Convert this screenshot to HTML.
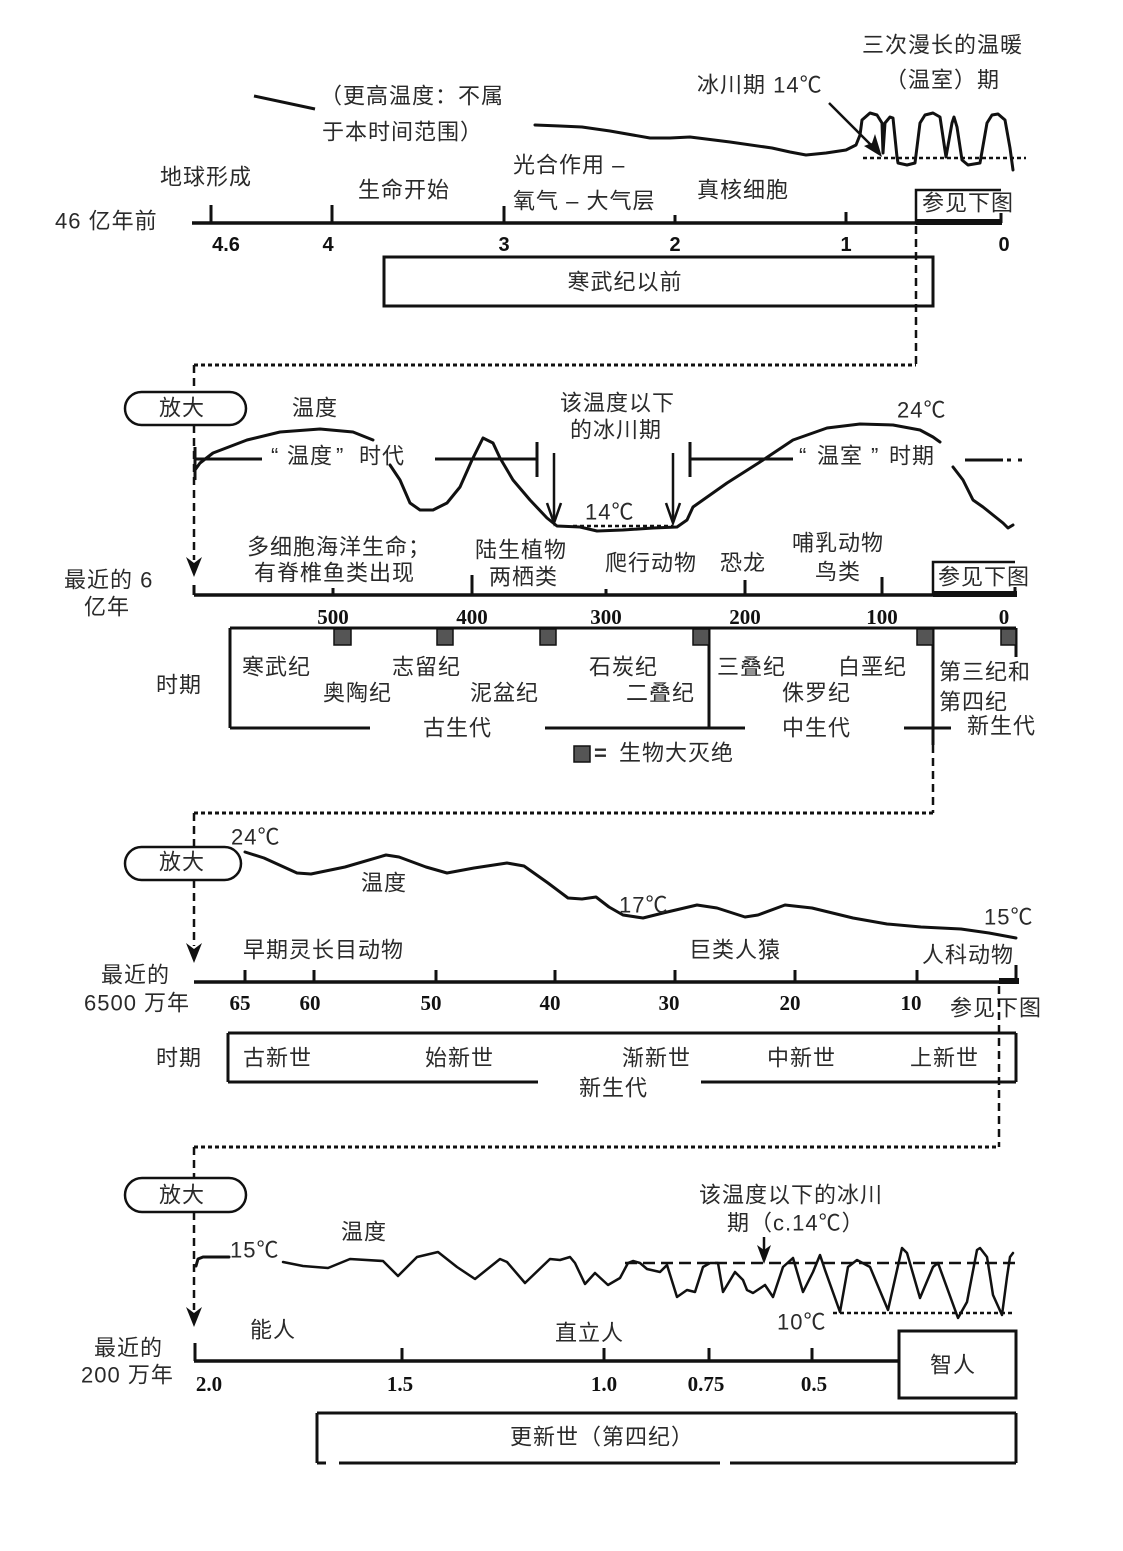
<!DOCTYPE html>
<html>
<head>
<meta charset="utf-8">
<style>
  html,body{margin:0;padding:0;background:#fff;}
  svg{display:block;}
  .t{font-family:"Liberation Sans","Noto Sans CJK SC",sans-serif;font-size:22px;fill:#2a2a2a;dominant-baseline:central;letter-spacing:1px;}
  .n1{font-family:"Liberation Sans",sans-serif;font-size:20px;font-weight:bold;fill:#111;dominant-baseline:central;text-anchor:middle;}
  .n2{font-family:"Liberation Serif",serif;font-size:21px;font-weight:bold;fill:#111;dominant-baseline:central;text-anchor:middle;}
  .ln{stroke:#111;stroke-width:3;fill:none;stroke-linecap:butt;}
  .cv{stroke:#111;stroke-width:3;fill:none;stroke-linejoin:round;stroke-linecap:round;}
  .dash{stroke:#111;stroke-width:2.5;fill:none;stroke-dasharray:8 5;}
  .dot{stroke:#111;stroke-width:3;fill:none;stroke-dasharray:4 3;}
  .ax{stroke:#111;stroke-width:3.5;fill:none;}
  .sq{fill:#555;stroke:#111;stroke-width:1.5;}
</style>
</head>
<body>
<svg width="1123" height="1551" viewBox="0 0 1123 1551" xmlns="http://www.w3.org/2000/svg">
<rect width="1123" height="1551" fill="#fff"/>

<!-- ================= SECTION 1 ================= -->
<text class="t" x="862" y="45">三次漫长的温暖</text>
<text class="t" x="885" y="80">（温室）期</text>
<text class="t" x="697" y="85">冰川期 14℃</text>
<text class="t" x="320" y="96">（更高温度：不属</text>
<text class="t" x="322" y="132">于本时间范围）</text>
<line class="ln" x1="254" y1="96" x2="315" y2="109"/>

<path class="cv" d="M535,125 L560,126 582,127 610,131 650,138 670,138 690,137 730,142 772,148 790,152 806,155 826,153 846,150 856,145 860,135 862,120 870,113 877,115 882,123 883,153 885,123 890,117 893,118 897,157 898,163 907,165 915,163 920,123 925,115 933,113 940,117 946,157 952,123 954,117 957,127 962,160 968,165 980,163 987,123 992,115 998,114 1005,120 1010,148 1013,170"/>
<line class="dot" x1="863" y1="158" x2="1026" y2="158" style="stroke-width:2.5"/>
<line class="ln" x1="829" y1="103" x2="876" y2="150" style="stroke-width:2.5"/>
<polygon points="882,157 864,146 872,143 875,134" fill="#111"/>

<text class="t" x="160" y="177">地球形成</text>
<text class="t" x="358" y="190">生命开始</text>
<text class="t" x="513" y="165">光合作用 –</text>
<text class="t" x="513" y="201">氧气 – 大气层</text>
<text class="t" x="697" y="190">真核细胞</text>
<text class="t" x="55" y="221">46 亿年前</text>

<line class="ax" x1="192" y1="223" x2="1001" y2="223"/>
<line x1="916" y1="222" x2="1002" y2="222" stroke="#111" stroke-width="6"/>
<line class="ln" x1="211" y1="205" x2="211" y2="223"/>
<line class="ln" x1="332" y1="205" x2="332" y2="223"/>
<line class="ln" x1="504" y1="206" x2="504" y2="223"/>
<line class="ln" x1="675" y1="215" x2="675" y2="223"/>
<line class="ln" x1="846" y1="212" x2="846" y2="223"/>
<line class="ln" x1="1001" y1="213" x2="1001" y2="223"/>
<polyline class="ln" points="916,222 916,190 1001,190" style="stroke-width:2.5"/>
<text class="t" x="922" y="203">参见下图</text>

<text class="n1" x="226" y="245">4.6</text>
<text class="n1" x="328" y="245">4</text>
<text class="n1" x="504" y="245">3</text>
<text class="n1" x="675" y="245">2</text>
<text class="n1" x="846" y="245">1</text>
<text class="n1" x="1004" y="245">0</text>

<rect x="384" y="257" width="549" height="49" fill="none" stroke="#111" stroke-width="3"/>
<text class="t" x="625" y="282" style="text-anchor:middle">寒武纪以前</text>

<line class="dash" x1="916" y1="226" x2="916" y2="365"/>
<line class="dot" x1="194" y1="365" x2="916" y2="365"/>

<!-- ================= SECTION 2 ================= -->
<line class="dash" x1="194" y1="365" x2="194" y2="392"/>
<rect x="125" y="392" width="121" height="33" rx="16.5" fill="#fff" stroke="#111" stroke-width="2.5"/>
<text class="t" x="182" y="408" style="text-anchor:middle">放大</text>
<line class="dash" x1="194" y1="425" x2="194" y2="560"/>
<polygon points="194,577 186,557 194,563 202,557" fill="#111"/>

<text class="t" x="292" y="408">温度</text>
<text class="t" x="560" y="403">该温度以下</text>
<text class="t" x="570" y="430">的冰川期</text>
<text class="t" x="897" y="410">24℃</text>

<path class="cv" d="M195,470 L200,463 213,453 247,440 280,432 320,429 353,432 373,440"/>
<path class="cv" d="M390,465 L400,480 410,503 420,510 433,510 447,503 460,487 472,460 483,438 493,443 500,458 513,480 530,500 547,518 557,526 580,527 597,531 623,530 653,528 677,527 687,520 693,507 727,483 760,462 793,440 827,428 860,424 893,425 920,430 933,437 940,442"/>
<path class="cv" d="M953,467 L963,480 973,500 983,507 993,515 1003,523 1008,528 1013,525"/>

<line class="ln" x1="195" y1="459" x2="262" y2="459"/>
<line class="ln" x1="195" y1="447" x2="195" y2="480"/>
<text class="t" x="271" y="456">“</text>
<text class="t" x="287" y="456">温度</text>
<text class="t" x="336" y="456">”</text>
<text class="t" x="359" y="456">时代</text>
<line class="ln" x1="435" y1="459" x2="537" y2="459"/>
<line class="ln" x1="537" y1="442" x2="537" y2="477"/>
<line class="ln" x1="690" y1="442" x2="690" y2="477"/>
<line class="ln" x1="690" y1="459" x2="793" y2="459"/>
<text class="t" x="799" y="456">“</text>
<text class="t" x="817" y="456">温室</text>
<text class="t" x="871" y="456">”</text>
<text class="t" x="889" y="456">时期</text>
<line class="ln" x1="965" y1="460" x2="1003" y2="460"/>
<line class="ln" x1="1007" y1="460" x2="1011" y2="460"/>
<line class="ln" x1="1018" y1="460" x2="1022" y2="460"/>

<line class="ln" x1="554" y1="453" x2="554" y2="522" style="stroke-width:2.5"/>
<polyline class="ln" points="547,503 554,523 561,503" style="stroke-width:2.5"/>
<line class="ln" x1="673" y1="453" x2="673" y2="522" style="stroke-width:2.5"/>
<polyline class="ln" points="666,503 673,523 680,503" style="stroke-width:2.5"/>
<text class="t" x="585" y="512">14℃</text>
<line class="dot" x1="573" y1="526" x2="673" y2="526" style="stroke-width:2.5"/>

<text class="t" x="247" y="547">多细胞海洋生命；</text>
<text class="t" x="254" y="573">有脊椎鱼类出现</text>
<text class="t" x="475" y="550">陆生植物</text>
<text class="t" x="489" y="577">两栖类</text>
<text class="t" x="605" y="563">爬行动物</text>
<text class="t" x="720" y="563">恐龙</text>
<text class="t" x="792" y="543">哺乳动物</text>
<text class="t" x="815" y="572">鸟类</text>
<text class="t" x="64" y="580">最近的 6</text>
<text class="t" x="84" y="607">亿年</text>

<line class="ax" x1="194" y1="595" x2="1016" y2="595"/>
<line x1="933" y1="594" x2="1017" y2="594" stroke="#111" stroke-width="6"/>
<line class="ln" x1="194" y1="585" x2="194" y2="595"/>
<line class="ln" x1="333" y1="588" x2="333" y2="595"/>
<line class="ln" x1="472" y1="575" x2="472" y2="595"/>
<line class="ln" x1="606" y1="589" x2="606" y2="595"/>
<line class="ln" x1="745" y1="580" x2="745" y2="595"/>
<line class="ln" x1="882" y1="577" x2="882" y2="595"/>
<line class="ln" x1="1015" y1="587" x2="1015" y2="595"/>
<polyline class="ln" points="933,595 933,562 1015,562" style="stroke-width:2.5"/>
<text class="t" x="938" y="577">参见下图</text>

<text class="n2" x="333" y="617">500</text>
<text class="n2" x="472" y="617">400</text>
<text class="n2" x="606" y="617">300</text>
<text class="n2" x="745" y="617">200</text>
<text class="n2" x="882" y="617">100</text>
<text class="n2" x="1004" y="617">0</text>

<line class="ln" x1="230" y1="628" x2="1016" y2="628"/>
<line class="ln" x1="230" y1="628" x2="230" y2="728"/>
<line class="ln" x1="709" y1="628" x2="709" y2="728"/>
<line class="ln" x1="933" y1="628" x2="933" y2="745"/>
<line class="ln" x1="1016" y1="628" x2="1016" y2="657"/>
<line class="ln" x1="230" y1="728" x2="370" y2="728"/>
<line class="ln" x1="545" y1="728" x2="745" y2="728"/>
<line class="ln" x1="904" y1="728" x2="951" y2="728"/>

<rect class="sq" x="334" y="629" width="17" height="16"/>
<rect class="sq" x="437" y="629" width="16" height="16"/>
<rect class="sq" x="540" y="629" width="16" height="16"/>
<rect class="sq" x="693" y="629" width="16" height="16"/>
<rect class="sq" x="917" y="629" width="16" height="16"/>
<rect class="sq" x="1001" y="629" width="15" height="16"/>

<text class="t" x="156" y="685">时期</text>
<text class="t" x="242" y="667">寒武纪</text>
<text class="t" x="323" y="693">奥陶纪</text>
<text class="t" x="392" y="667">志留纪</text>
<text class="t" x="470" y="693">泥盆纪</text>
<text class="t" x="589" y="667">石炭纪</text>
<text class="t" x="626" y="693">二叠纪</text>
<text class="t" x="717" y="667">三叠纪</text>
<text class="t" x="838" y="667">白垩纪</text>
<text class="t" x="782" y="693">侏罗纪</text>
<text class="t" x="939" y="672">第三纪和</text>
<text class="t" x="939" y="702">第四纪</text>
<text class="t" x="423" y="728">古生代</text>
<text class="t" x="782" y="728">中生代</text>
<text class="t" x="967" y="726">新生代</text>

<rect class="sq" x="574" y="746" width="16" height="16"/>
<text class="t" x="594" y="753" style="font-weight:bold">=</text>
<text class="t" x="619" y="753">生物大灭绝</text>

<line class="dash" x1="933" y1="745" x2="933" y2="813"/>
<line class="dot" x1="194" y1="813" x2="933" y2="813"/>

<!-- ================= SECTION 3 ================= -->
<line class="dash" x1="194" y1="813" x2="194" y2="847"/>
<rect x="125" y="847" width="116" height="33" rx="16.5" fill="#fff" stroke="#111" stroke-width="2.5"/>
<text class="t" x="182" y="862" style="text-anchor:middle">放大</text>
<line class="dash" x1="194" y1="880" x2="194" y2="946"/>
<polygon points="194,963 186,943 194,949 202,943" fill="#111"/>

<text class="t" x="231" y="837">24℃</text>
<path class="cv" d="M245,852 L264,858 297,873 311,874 345,867 386,855 399,857 426,867 447,873 474,868 507,863 524,866 548,883 568,898 582,899 596,897 609,907 623,915 643,918 663,913 697,905 717,908 745,917 758,915 785,905 812,908 853,918 887,924 921,927 961,929 989,933 1016,938"/>
<text class="t" x="361" y="883">温度</text>
<text class="t" x="619" y="905">17℃</text>
<text class="t" x="984" y="917">15℃</text>

<text class="t" x="243" y="950">早期灵长目动物</text>
<text class="t" x="689" y="950">巨类人猿</text>
<text class="t" x="922" y="955">人科动物</text>
<text class="t" x="101" y="975">最近的</text>
<text class="t" x="84" y="1003">6500 万年</text>

<line class="ax" x1="194" y1="982" x2="1016" y2="982"/>
<line x1="999" y1="981" x2="1019" y2="981" stroke="#111" stroke-width="6"/>
<line class="ln" x1="245" y1="970" x2="245" y2="982"/>
<line class="ln" x1="314" y1="970" x2="314" y2="982"/>
<line class="ln" x1="436" y1="970" x2="436" y2="982"/>
<line class="ln" x1="555" y1="970" x2="555" y2="982"/>
<line class="ln" x1="675" y1="970" x2="675" y2="982"/>
<line class="ln" x1="795" y1="970" x2="795" y2="982"/>
<line class="ln" x1="917" y1="970" x2="917" y2="982"/>
<line class="ln" x1="1016" y1="965" x2="1016" y2="982"/>

<text class="n2" x="240" y="1003">65</text>
<text class="n2" x="310" y="1003">60</text>
<text class="n2" x="431" y="1003">50</text>
<text class="n2" x="550" y="1003">40</text>
<text class="n2" x="669" y="1003">30</text>
<text class="n2" x="790" y="1003">20</text>
<text class="n2" x="911" y="1003">10</text>
<text class="t" x="950" y="1008">参见下图</text>

<line class="ln" x1="228" y1="1033" x2="1016" y2="1033"/>
<line class="ln" x1="228" y1="1033" x2="228" y2="1082"/>
<line class="ln" x1="1016" y1="1033" x2="1016" y2="1082"/>
<line class="ln" x1="228" y1="1082" x2="538" y2="1082"/>
<line class="ln" x1="701" y1="1082" x2="1016" y2="1082"/>
<text class="t" x="156" y="1058">时期</text>
<text class="t" x="243" y="1058">古新世</text>
<text class="t" x="425" y="1058">始新世</text>
<text class="t" x="622" y="1058">渐新世</text>
<text class="t" x="767" y="1058">中新世</text>
<text class="t" x="910" y="1058">上新世</text>
<text class="t" x="579" y="1088">新生代</text>

<line class="dash" x1="999" y1="986" x2="999" y2="1147"/>
<line class="dot" x1="194" y1="1147" x2="999" y2="1147"/>

<!-- ================= SECTION 4 ================= -->
<line class="dash" x1="194" y1="1147" x2="194" y2="1178"/>
<rect x="125" y="1178" width="121" height="34" rx="17" fill="#fff" stroke="#111" stroke-width="2.5"/>
<text class="t" x="182" y="1195" style="text-anchor:middle">放大</text>
<line class="dash" x1="194" y1="1212" x2="194" y2="1310"/>
<polygon points="194,1327 186,1307 194,1313 202,1307" fill="#111"/>

<path class="cv" d="M196,1266 L198,1259 203,1257 229,1257"/>
<text class="t" x="230" y="1250">15℃</text>
<text class="t" x="341" y="1232">温度</text>
<text class="t" x="699" y="1195">该温度以下的冰川</text>
<text class="t" x="727" y="1223">期（c.14℃）</text>

<line x1="625" y1="1263" x2="1016" y2="1263" stroke="#111" stroke-width="2.5" stroke-dasharray="12 6"/>
<line class="dot" x1="833" y1="1313" x2="1014" y2="1313" style="stroke-width:2.5"/>
<path class="cv" d="M283,1262 L303,1266 328,1268 350,1259 383,1261 398,1276 417,1257 438,1252 457,1267 475,1279 500,1259 507,1262 525,1283 550,1259 560,1260 570,1257 575,1263 585,1284 595,1273 608,1285 620,1278 628,1263 633,1261 640,1263 647,1269 660,1272 667,1265 677,1297 687,1290 695,1292 703,1267 710,1263 718,1263 723,1292 735,1272 743,1280 747,1290 753,1293 765,1285 773,1297 783,1267 793,1258 803,1292 813,1272 820,1255 825,1270 840,1312 848,1267 857,1260 870,1267 888,1310 902,1248 907,1253 920,1298 933,1267 938,1263 958,1318 967,1302 977,1250 980,1248 987,1257 993,1295 1002,1315 1007,1277 1010,1257 1013,1253" style="stroke-width:2.5"/>
<line class="ln" x1="764" y1="1237" x2="764" y2="1252" style="stroke-width:2.5"/>
<polygon points="764,1264 757,1245 764,1250 771,1245" fill="#111"/>
<text class="t" x="777" y="1322">10℃</text>

<text class="t" x="250" y="1330">能人</text>
<text class="t" x="555" y="1333">直立人</text>
<text class="t" x="94" y="1348">最近的</text>
<text class="t" x="81" y="1375">200 万年</text>

<line class="ax" x1="194" y1="1361" x2="899" y2="1361"/>
<line class="ln" x1="195" y1="1343" x2="195" y2="1361"/>
<line class="ln" x1="402" y1="1348" x2="402" y2="1361"/>
<line class="ln" x1="604" y1="1348" x2="604" y2="1361"/>
<line class="ln" x1="709" y1="1348" x2="709" y2="1361"/>
<line class="ln" x1="812" y1="1348" x2="812" y2="1361"/>
<text class="n2" x="209" y="1384">2.0</text>
<text class="n2" x="400" y="1384">1.5</text>
<text class="n2" x="604" y="1384">1.0</text>
<text class="n2" x="706" y="1384">0.75</text>
<text class="n2" x="814" y="1384">0.5</text>

<rect x="899" y="1331" width="117" height="67" fill="#fff" stroke="#111" stroke-width="3"/>
<text class="t" x="953" y="1365" style="text-anchor:middle">智人</text>

<line class="ln" x1="317" y1="1413" x2="1016" y2="1413"/>
<line class="ln" x1="317" y1="1413" x2="317" y2="1463"/>
<line class="ln" x1="1016" y1="1413" x2="1016" y2="1463"/>
<line class="ln" x1="317" y1="1463" x2="326" y2="1463"/>
<line class="ln" x1="339" y1="1463" x2="720" y2="1463"/>
<line class="ln" x1="730" y1="1463" x2="1016" y2="1463"/>
<text class="t" x="602" y="1437" style="text-anchor:middle">更新世（第四纪）</text>
</svg>
</body>
</html>
